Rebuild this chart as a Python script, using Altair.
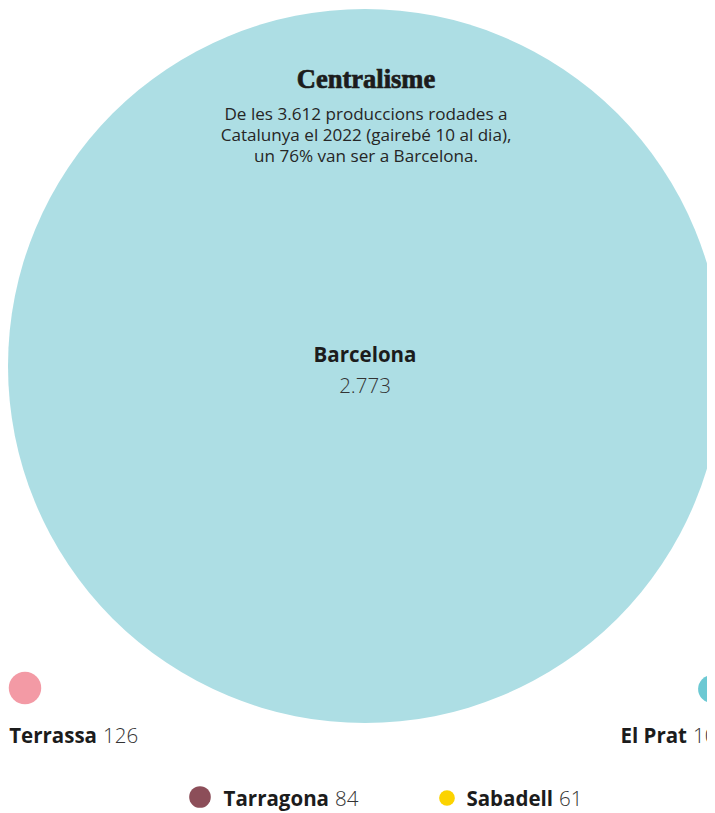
import altair as alt
import pandas as pd

# ---- data ----
cities = ["Barcelona", "Terrassa", "El Prat", "Tarragona", "Sabadell"]
productions = [2773, 126, 108, 84, 61]
colors = ["#ADDEE4", "#F39AA5", "#6CC9D3", "#8C4E59", "#FCD300"]

title_text = "Centralisme"
subtitle_lines = [
    "De les 3.612 produccions rodades a",
    "Catalunya el 2022 (gairebé 10 al dia),",
    "un 76% van ser a Barcelona.",
]

# ---- layout (pixel-space layout units, top-left origin) ----
W, H = 699, 805
bubble_x = [357, 17, 704, 192, 439]
bubble_y = [358, 680, 681, 789, 790]
label_x = [357, 89, 679, 321, 545]
label_y = [354, 735, 735, 798, 798]
value_y = [385, 735, 735, 798, 798]
max_radius = 357

df = pd.DataFrame({
    "city": cities,
    "value": productions,
    "bx": bubble_x,
    "by": bubble_y,
    "lx": label_x,
    "ly": label_y,
    "vy": value_y,
})
df["value_label"] = [f"{v:,}".replace(",", ".") for v in productions]

xs = alt.Scale(domain=[0, W], nice=False, zero=False)
ys = alt.Scale(domain=[0, H], nice=False, zero=False, reverse=True)

base = alt.Chart(df)

bubbles = base.mark_circle(opacity=1).encode(
    x=alt.X("bx:Q", scale=xs, axis=None),
    y=alt.Y("by:Q", scale=ys, axis=None),
    size=alt.Size("value:Q", legend=None,
                  scale=alt.Scale(type="pow", exponent=2, domain=[0, 2773],
                                  range=[0, 4 * max_radius ** 2])),
    color=alt.Color("city:N", legend=None,
                    scale=alt.Scale(domain=cities, range=colors)),
)

FONT = "Open Sans"
FS = 20.5

bcn = base.transform_filter(alt.datum.city == "Barcelona")
bcn_name = bcn.mark_text(font=FONT, fontSize=FS, fontWeight="bold", color="#1c1c1c",
                         align="center", baseline="alphabetic").encode(
    x=alt.X("lx:Q", scale=xs, axis=None), y=alt.Y("ly:Q", scale=ys, axis=None), text="city:N")
bcn_val = bcn.mark_text(font=FONT, fontSize=FS, fontWeight=300, color="#333333",
                        align="center", baseline="alphabetic").encode(
    x=alt.X("lx:Q", scale=xs, axis=None), y=alt.Y("vy:Q", scale=ys, axis=None), text="value_label:N")

others = base.transform_filter(alt.datum.city != "Barcelona")
oth_name = others.mark_text(font=FONT, fontSize=FS, fontWeight="bold", color="#1c1c1c",
                            align="right", baseline="alphabetic").encode(
    x=alt.X("lx:Q", scale=xs, axis=None), y=alt.Y("ly:Q", scale=ys, axis=None), text="city:N")
oth_val = others.mark_text(font=FONT, fontSize=FS, fontWeight=300, color="#333333",
                           align="left", baseline="alphabetic", dx=6).encode(
    x=alt.X("lx:Q", scale=xs, axis=None), y=alt.Y("vy:Q", scale=ys, axis=None), text="value_label:N")

title_df = pd.DataFrame({"t": [title_text]})
title = alt.Chart(title_df).mark_text(font="Liberation Serif", fontSize=26.5, fontWeight="bold",
                                      color="#1c1c1c", stroke="#1c1c1c", strokeWidth=0.7,
                                      align="center", baseline="alphabetic").encode(
    x=alt.value(358), y=alt.value(80), text="t:N")

sub_df = pd.DataFrame({"t": subtitle_lines, "i": list(range(len(subtitle_lines)))})
subtitle = alt.Chart(sub_df).mark_text(font=FONT, fontSize=17.1, color="#262626",
                                       align="center", baseline="alphabetic").encode(
    x=alt.value(358),
    y=alt.Y("i:Q", scale=alt.Scale(domain=[0, 2], range=[112, 154]), axis=None),
    text="t:N")

chart = alt.layer(bubbles, bcn_name, bcn_val, oth_name, oth_val, title, subtitle).resolve_scale(
    y="independent"
).properties(
    width=W, height=H, padding=0,
    autosize=alt.AutoSizeParams(type="none"),
).configure_view(stroke=None)

chart.save("out.html", embed_options={"renderer": "svg", "actions": False})
